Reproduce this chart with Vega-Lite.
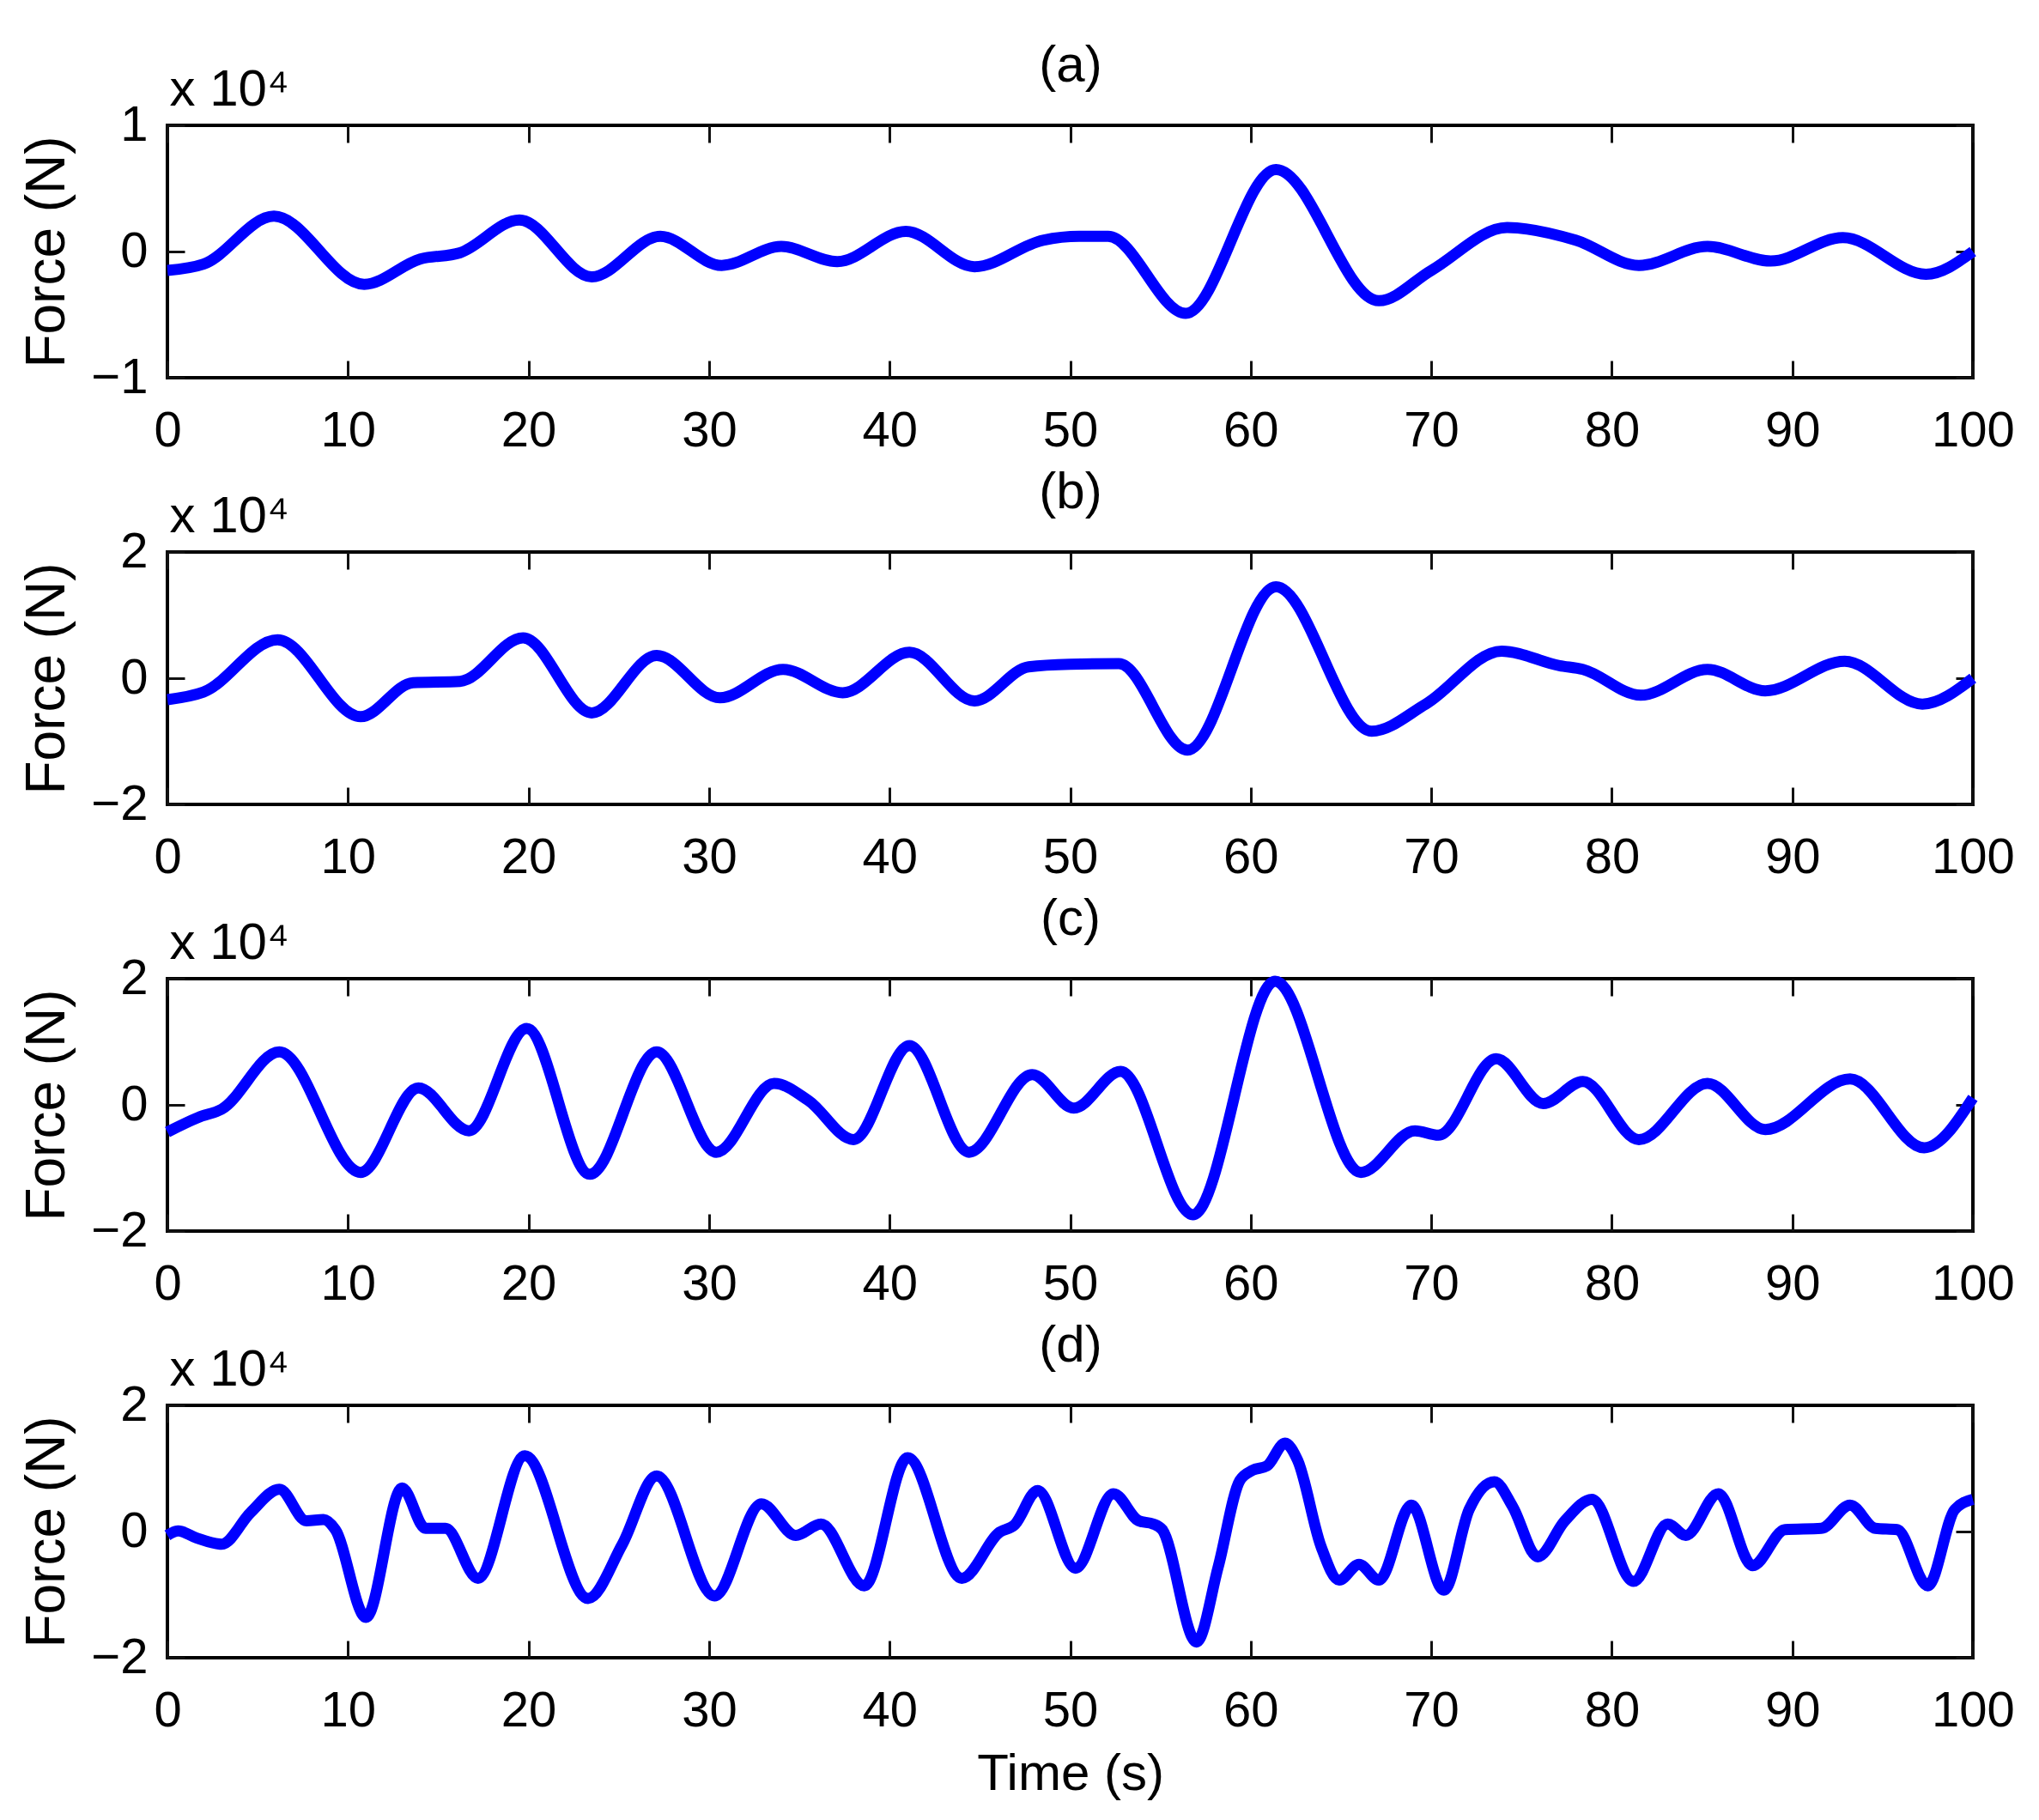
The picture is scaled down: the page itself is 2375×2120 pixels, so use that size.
{
  "$schema": "https://vega.github.io/schema/vega-lite/v6.json",
  "padding": {"left": 21, "top": 44, "right": 10, "bottom": 10},
  "background": "white",
  "config": {
    "view": {"stroke": "black", "strokeWidth": 4},
    "axis": {
      "domain": false,
      "grid": false,
      "ticks": true,
      "tickSize": 20,
      "tickWidth": 3,
      "tickColor": "#111111",
      "tickOpacity": 1,
      "offset": -20,
      "zindex": 1,
      "labelFont": "Liberation Sans",
      "labelFontSize": 58,
      "labelColor": "black",
      "labelFlush": false,
      "labelOverlap": false,
      "labelBound": false,
      "titleFont": "Liberation Sans",
      "titleFontSize": 60,
      "titleFontWeight": "normal",
      "titleColor": "black"
    },
    "line": {"color": "#0000ff", "strokeWidth": 13, "interpolate": "monotone"}
  },
  "datasets": {
    "a": [
      {"t": 0, "f": -0.15}, {"t": 2, "f": -0.1}, {"t": 5.9, "f": 0.28}, {"t": 10.9, "f": -0.26},
      {"t": 14, "f": -0.06}, {"t": 16.2, "f": -0.01}, {"t": 19.5, "f": 0.25}, {"t": 23.5, "f": -0.2},
      {"t": 27.3, "f": 0.12}, {"t": 30.7, "f": -0.11}, {"t": 34, "f": 0.04}, {"t": 37.1, "f": -0.08},
      {"t": 40.9, "f": 0.16}, {"t": 44.7, "f": -0.12}, {"t": 48.5, "f": 0.09},
      {"t": 50.5, "f": 0.12}, {"t": 52.1, "f": 0.12}, {"t": 56.4, "f": -0.49}, {"t": 61.4, "f": 0.65},
      {"t": 67.1, "f": -0.39}, {"t": 70.0, "f": -0.15}, {"t": 74.2, "f": 0.19}, {"t": 78.0, "f": 0.09},
      {"t": 81.5, "f": -0.11}, {"t": 85.3, "f": 0.04}, {"t": 88.8, "f": -0.075}, {"t": 92.8, "f": 0.11},
      {"t": 97.4, "f": -0.18}, {"t": 100, "f": 0.0}
    ],
    "b": [
      {"t": 0, "f": -0.34}, {"t": 2, "f": -0.22}, {"t": 6.1, "f": 0.61}, {"t": 10.7, "f": -0.61},
      {"t": 13.6, "f": -0.07}, {"t": 16.2, "f": -0.05}, {"t": 19.7, "f": 0.64}, {"t": 23.5, "f": -0.55},
      {"t": 27.1, "f": 0.36}, {"t": 30.6, "f": -0.31}, {"t": 34.1, "f": 0.14}, {"t": 37.4, "f": -0.23},
      {"t": 41.1, "f": 0.41}, {"t": 44.7, "f": -0.36}, {"t": 47.7, "f": 0.18}, {"t": 50, "f": 0.22},
      {"t": 52.7, "f": 0.23}, {"t": 56.5, "f": -1.14}, {"t": 61.4, "f": 1.45}, {"t": 66.7, "f": -0.84},
      {"t": 69.7, "f": -0.41}, {"t": 73.9, "f": 0.43}, {"t": 77.1, "f": 0.2}, {"t": 78.4, "f": 0.14},
      {"t": 81.6, "f": -0.27}, {"t": 85.3, "f": 0.14}, {"t": 88.5, "f": -0.2}, {"t": 92.9, "f": 0.27},
      {"t": 97.2, "f": -0.41}, {"t": 100, "f": 0.0}
    ],
    "c": [
      {"t": 0, "f": -0.43}, {"t": 1.7, "f": -0.2}, {"t": 3, "f": -0.07}, {"t": 6.2, "f": 0.84},
      {"t": 10.7, "f": -1.07}, {"t": 13.9, "f": 0.27}, {"t": 16.7, "f": -0.41},
      {"t": 19.9, "f": 1.21}, {"t": 23.4, "f": -1.1}, {"t": 27.1, "f": 0.84}, {"t": 30.4, "f": -0.75},
      {"t": 33.6, "f": 0.34}, {"t": 35.5, "f": 0.07}, {"t": 38, "f": -0.55}, {"t": 41.1, "f": 0.94},
      {"t": 44.4, "f": -0.75}, {"t": 47.9, "f": 0.48}, {"t": 50.2, "f": -0.05}, {"t": 52.8, "f": 0.53},
      {"t": 56.8, "f": -1.74}, {"t": 61.35, "f": 1.96}, {"t": 66.1, "f": -1.07}, {"t": 69.1, "f": -0.41},
      {"t": 70.4, "f": -0.48}, {"t": 73.6, "f": 0.73}, {"t": 76.2, "f": 0.02}, {"t": 78.4, "f": 0.37},
      {"t": 81.5, "f": -0.55}, {"t": 85.3, "f": 0.34}, {"t": 88.5, "f": -0.39}, {"t": 93.2, "f": 0.41},
      {"t": 97.3, "f": -0.68}, {"t": 100, "f": 0.11}
    ],
    "d": [
      {"t": 0, "f": -0.06}, {"t": 0.6, "f": 0.01}, {"t": 1.6, "f": -0.1}, {"t": 3, "f": -0.2},
      {"t": 4.6, "f": 0.3}, {"t": 6.2, "f": 0.67}, {"t": 7.7, "f": 0.17}, {"t": 8.65, "f": 0.19},
      {"t": 9.3, "f": 0.03}, {"t": 11, "f": -1.36}, {"t": 13, "f": 0.69}, {"t": 14.3, "f": 0.05},
      {"t": 15.4, "f": 0.05}, {"t": 17.2, "f": -0.74}, {"t": 19.8, "f": 1.2}, {"t": 23.3, "f": -1.06},
      {"t": 25.2, "f": -0.2}, {"t": 27.1, "f": 0.88}, {"t": 30.3, "f": -1.02}, {"t": 32.9, "f": 0.44},
      {"t": 34.8, "f": -0.06}, {"t": 36.2, "f": 0.12}, {"t": 38.6, "f": -0.86}, {"t": 41, "f": 1.17},
      {"t": 44, "f": -0.74}, {"t": 46.1, "f": -0.01}, {"t": 46.9, "f": 0.1}, {"t": 48.2, "f": 0.65},
      {"t": 50.3, "f": -0.58}, {"t": 52.4, "f": 0.6}, {"t": 53.8, "f": 0.17}, {"t": 54.6, "f": 0.12},
      {"t": 55.1, "f": 0.03}, {"t": 57, "f": -1.75}, {"t": 58.2, "f": -0.56}, {"t": 59.4, "f": 0.81},
      {"t": 60.1, "f": 0.97}, {"t": 60.9, "f": 1.04}, {"t": 61.9, "f": 1.4}, {"t": 62.6, "f": 1.13},
      {"t": 63.9, "f": -0.24}, {"t": 64.9, "f": -0.77}, {"t": 66, "f": -0.52}, {"t": 67.1, "f": -0.77},
      {"t": 68.9, "f": 0.42}, {"t": 70.7, "f": -0.93}, {"t": 72.1, "f": 0.35}, {"t": 73.5, "f": 0.79},
      {"t": 74.5, "f": 0.4}, {"t": 75.9, "f": -0.4}, {"t": 77.4, "f": 0.17}, {"t": 78.9, "f": 0.51},
      {"t": 81.2, "f": -0.79}, {"t": 83.1, "f": 0.12}, {"t": 84.1, "f": -0.06}, {"t": 85.9, "f": 0.6},
      {"t": 87.8, "f": -0.54}, {"t": 89.6, "f": 0.03}, {"t": 91.6, "f": 0.05}, {"t": 93.2, "f": 0.42},
      {"t": 94.6, "f": 0.05}, {"t": 95.8, "f": 0.03}, {"t": 97.5, "f": -0.86}, {"t": 99, "f": 0.35},
      {"t": 100, "f": 0.51}
    ]
  },
  "spacing": 8,
  "vconcat": [
    {
      "data": {"name": "a"},
      "width": 2103,
      "height": 294,
      "layer": [
        {
          "mark": "line",
          "encoding": {
            "x": {"field": "t", "type": "quantitative", "scale": {"domain": [0, 100], "nice": false},
              "axis": {"orient": "bottom", "values": [0, 10, 20, 30, 40, 50, 60, 70, 80, 90, 100], "title": null, "labelPadding": 33}},
            "y": {"field": "f", "type": "quantitative", "scale": {"domain": [-1, 1], "nice": false},
              "axis": {"orient": "left", "values": [-1, 0, 1], "format": ".0f", "title": "Force (N)", "labelPadding": 23,
                "titleFontSize": 64, "titleX": -160, "titleY": 147, "titleAngle": -90, "titleAlign": "center", "titleBaseline": "middle"}}
          }
        },
        {
          "mark": {"type": "line", "opacity": 0},
          "encoding": {
            "x": {"field": "t", "type": "quantitative",
              "axis": {"orient": "top", "values": [0, 10, 20, 30, 40, 50, 60, 70, 80, 90, 100], "labels": false, "title": "(a)",
                "titleX": 1051.5, "titleY": -90, "titleAlign": "center", "titleBaseline": "middle"}},
            "y": {"field": "f", "type": "quantitative",
              "axis": {"orient": "right", "values": [-1, 0, 1], "labels": false, "title": "x 10⁴",
                "titleX": -2081, "titleY": -24, "titleAngle": 0, "titleAlign": "left", "titleBaseline": "alphabetic"}}
          }
        }
      ],
      "resolve": {"axis": {"x": "independent", "y": "independent"}}
    },
    {
      "data": {"name": "b"},
      "width": 2103,
      "height": 294,
      "layer": [
        {
          "mark": "line",
          "encoding": {
            "x": {"field": "t", "type": "quantitative", "scale": {"domain": [0, 100], "nice": false},
              "axis": {"orient": "bottom", "values": [0, 10, 20, 30, 40, 50, 60, 70, 80, 90, 100], "title": null, "labelPadding": 33}},
            "y": {"field": "f", "type": "quantitative", "scale": {"domain": [-2, 2], "nice": false},
              "axis": {"orient": "left", "values": [-2, 0, 2], "format": ".0f", "title": "Force (N)", "labelPadding": 23,
                "titleFontSize": 64, "titleX": -160, "titleY": 147, "titleAngle": -90, "titleAlign": "center", "titleBaseline": "middle"}}
          }
        },
        {
          "mark": {"type": "line", "opacity": 0},
          "encoding": {
            "x": {"field": "t", "type": "quantitative",
              "axis": {"orient": "top", "values": [0, 10, 20, 30, 40, 50, 60, 70, 80, 90, 100], "labels": false, "title": "(b)",
                "titleX": 1051.5, "titleY": -90, "titleAlign": "center", "titleBaseline": "middle"}},
            "y": {"field": "f", "type": "quantitative",
              "axis": {"orient": "right", "values": [-2, 0, 2], "labels": false, "title": "x 10⁴",
                "titleX": -2081, "titleY": -24, "titleAngle": 0, "titleAlign": "left", "titleBaseline": "alphabetic"}}
          }
        }
      ],
      "resolve": {"axis": {"x": "independent", "y": "independent"}}
    },
    {
      "data": {"name": "c"},
      "width": 2103,
      "height": 294,
      "layer": [
        {
          "mark": "line",
          "encoding": {
            "x": {"field": "t", "type": "quantitative", "scale": {"domain": [0, 100], "nice": false},
              "axis": {"orient": "bottom", "values": [0, 10, 20, 30, 40, 50, 60, 70, 80, 90, 100], "title": null, "labelPadding": 33}},
            "y": {"field": "f", "type": "quantitative", "scale": {"domain": [-2, 2], "nice": false},
              "axis": {"orient": "left", "values": [-2, 0, 2], "format": ".0f", "title": "Force (N)", "labelPadding": 23,
                "titleFontSize": 64, "titleX": -160, "titleY": 147, "titleAngle": -90, "titleAlign": "center", "titleBaseline": "middle"}}
          }
        },
        {
          "mark": {"type": "line", "opacity": 0},
          "encoding": {
            "x": {"field": "t", "type": "quantitative",
              "axis": {"orient": "top", "values": [0, 10, 20, 30, 40, 50, 60, 70, 80, 90, 100], "labels": false, "title": "(c)",
                "titleX": 1051.5, "titleY": -90, "titleAlign": "center", "titleBaseline": "middle"}},
            "y": {"field": "f", "type": "quantitative",
              "axis": {"orient": "right", "values": [-2, 0, 2], "labels": false, "title": "x 10⁴",
                "titleX": -2081, "titleY": -24, "titleAngle": 0, "titleAlign": "left", "titleBaseline": "alphabetic"}}
          }
        }
      ],
      "resolve": {"axis": {"x": "independent", "y": "independent"}}
    },
    {
      "data": {"name": "d"},
      "width": 2103,
      "height": 294,
      "layer": [
        {
          "mark": "line",
          "encoding": {
            "x": {"field": "t", "type": "quantitative", "scale": {"domain": [0, 100], "nice": false},
              "axis": {"orient": "bottom", "values": [0, 10, 20, 30, 40, 50, 60, 70, 80, 90, 100], "title": "Time (s)", "labelPadding": 33,
                "titleX": 1051.5, "titleY": 155, "titleAlign": "center", "titleBaseline": "middle"}},
            "y": {"field": "f", "type": "quantitative", "scale": {"domain": [-2, 2], "nice": false},
              "axis": {"orient": "left", "values": [-2, 0, 2], "format": ".0f", "title": "Force (N)", "labelPadding": 23,
                "titleFontSize": 64, "titleX": -160, "titleY": 147, "titleAngle": -90, "titleAlign": "center", "titleBaseline": "middle"}}
          }
        },
        {
          "mark": {"type": "line", "opacity": 0},
          "encoding": {
            "x": {"field": "t", "type": "quantitative",
              "axis": {"orient": "top", "values": [0, 10, 20, 30, 40, 50, 60, 70, 80, 90, 100], "labels": false, "title": "(d)",
                "titleX": 1051.5, "titleY": -90, "titleAlign": "center", "titleBaseline": "middle"}},
            "y": {"field": "f", "type": "quantitative",
              "axis": {"orient": "right", "values": [-2, 0, 2], "labels": false, "title": "x 10⁴",
                "titleX": -2081, "titleY": -24, "titleAngle": 0, "titleAlign": "left", "titleBaseline": "alphabetic"}}
          }
        }
      ],
      "resolve": {"axis": {"x": "independent", "y": "independent"}}
    }
  ]
}
